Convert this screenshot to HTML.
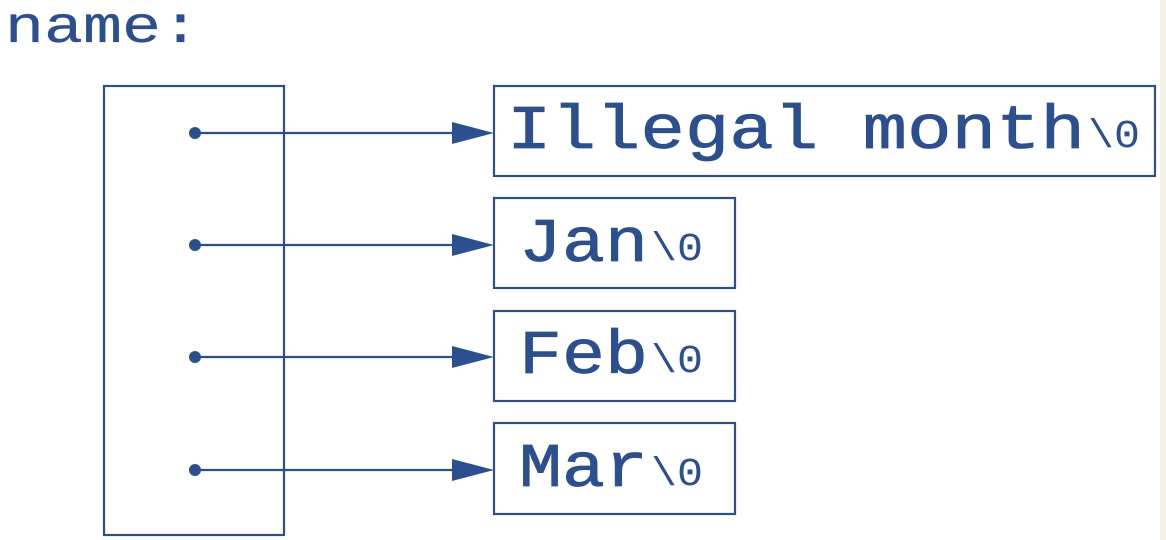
<!DOCTYPE html>
<html><head><style>
html,body{margin:0;padding:0;background:#fff;}
svg{display:block;}
text{font-family:"Liberation Mono",monospace;fill:#2c4f8f;font-weight:normal;stroke:#2c4f8f;}
</style></head><body>
<svg width="1166" height="540" viewBox="0 0 1166 540" xmlns="http://www.w3.org/2000/svg">
<rect x="1160" y="0" width="6" height="540" fill="#f3efe3"/>
<g stroke="#2c4f8f" stroke-width="2.2" fill="none">
<rect x="104" y="86" width="180" height="449"/>
<rect x="494" y="86" width="661" height="90"/>
<rect x="494" y="198" width="241" height="90"/>
<rect x="494" y="311" width="241" height="90"/>
<rect x="494" y="423" width="241" height="91"/>
<line x1="195" y1="133" x2="456" y2="133"/>
<line x1="195" y1="245" x2="456" y2="245"/>
<line x1="195" y1="357" x2="456" y2="357"/>
<line x1="195" y1="470" x2="456" y2="470"/>
</g>
<g fill="#2c4f8f">
<circle cx="195" cy="133" r="6"/><circle cx="195" cy="245" r="6"/>
<circle cx="195" cy="357" r="6"/><circle cx="195" cy="470" r="6"/>
<polygon points="452,122 494,133 452,144"/>
<polygon points="452,234 494,245 452,256"/>
<polygon points="452,346 494,357 452,368"/>
<polygon points="452,459 494,470 452,481"/>
</g>
<text x="5" y="42" font-size="52" stroke-width="0.3" textLength="195" lengthAdjust="spacingAndGlyphs">name:</text>
<text x="507" y="148" font-size="62" stroke-width="0.8" textLength="578" lengthAdjust="spacingAndGlyphs">Illegal month</text>
<text x="1088" y="147" font-size="40" stroke-width="0" textLength="52" lengthAdjust="spacingAndGlyphs">\0</text>
<text x="519" y="261" font-size="62" stroke-width="0.8" textLength="129" lengthAdjust="spacingAndGlyphs">Jan</text>
<text x="651" y="260" font-size="40" stroke-width="0" textLength="52" lengthAdjust="spacingAndGlyphs">\0</text>
<text x="519" y="373" font-size="62" stroke-width="0.8" textLength="129" lengthAdjust="spacingAndGlyphs">Feb</text>
<text x="651" y="372" font-size="40" stroke-width="0" textLength="52" lengthAdjust="spacingAndGlyphs">\0</text>
<text x="519" y="486" font-size="62" stroke-width="0.8" textLength="129" lengthAdjust="spacingAndGlyphs">Mar</text>
<text x="651" y="485" font-size="40" stroke-width="0" textLength="52" lengthAdjust="spacingAndGlyphs">\0</text>
</svg>
</body></html>
